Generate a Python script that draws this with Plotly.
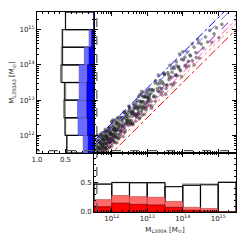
import plotly.graph_objects as go
import math

# ---------------- data (log10 masses) ----------------
mass_l300a = [
    11.56,11.58,11.59,11.61,11.62,11.63,11.65,11.66,11.67,11.69,11.70,11.71,11.73,11.74,11.75,11.77,11.78,11.79,11.81,11.82,
    11.83,11.85,11.86,11.87,11.89,11.90,11.91,11.93,11.94,11.95,11.97,11.98,11.99,12.01,12.02,12.03,12.05,12.06,12.07,12.09,
    12.10,12.11,12.13,12.14,12.15,12.17,12.18,12.19,12.21,12.22,
    11.57,11.60,11.64,11.68,11.72,11.76,11.80,11.84,11.88,11.92,11.96,12.00,12.04,12.08,12.12,12.16,12.20,12.24,12.28,12.32,
    12.36,12.40,12.44,12.48,12.52,12.56,12.60,12.64,12.68,12.72,12.76,12.80,12.84,12.88,12.92,12.96,13.00,13.04,13.08,13.12,
    12.24,12.26,12.29,12.31,12.33,12.35,12.38,12.40,12.42,12.45,12.47,12.49,12.52,12.54,12.57,12.59,12.61,12.64,12.66,12.69,
    12.71,12.74,12.76,12.79,12.81,12.84,12.86,12.89,12.91,12.94,12.96,12.99,13.01,13.04,13.06,
    13.10,13.13,13.16,13.19,13.22,13.25,13.28,13.31,13.34,13.37,13.40,13.43,13.46,13.49,13.52,13.55,13.58,13.61,13.64,13.67,
    13.70,13.73,13.76,13.79,13.82,13.85,13.88,13.91,13.94,13.97,
    14.02,14.07,14.12,14.17,14.22,14.27,14.32,14.37,14.42,14.47,14.52,14.58,14.64,14.70,14.76,14.82,14.88,14.95,15.02,15.10,
    11.56,11.58,11.60,11.62,11.64,11.66,11.68,11.70,11.72,11.74,11.76,11.78,11.80,11.82,11.84,11.86,11.88,11.90,11.92,11.94,
    11.96,11.98,12.00,12.02,12.04,12.06,12.08,12.10,12.12,12.14,
    11.61,11.63,11.66,11.69,11.71,11.74,11.77,11.79,11.82,11.85,11.87,11.90,11.93,11.95,11.98,12.01,12.04,12.07,12.11,12.15,
    12.19,12.23,12.27,12.31,12.35,12.39,12.43,12.47,12.51,12.55,12.59,12.63,12.67,12.71,12.75,12.79,12.83,12.87,12.92,12.97,
    13.02,13.07,13.12,13.18,13.24,13.30,13.36,13.42,13.48,13.55,13.62,13.69,13.76,13.84,13.92,14.00,14.10,14.20,14.32,14.45,
    11.59,11.62,11.64,11.67,11.70,11.73,11.75,11.78,11.81,11.84,11.86,11.89,11.92,11.94,11.97,12.00,12.03,12.06,12.09,12.12,
    12.16,12.20,12.25,12.30,12.34,12.38,12.42,12.46,12.50,12.54,12.58,12.62,12.66,12.70,12.74,12.78,12.82,12.86,12.90,12.95,
    13.00,13.05,13.11,13.17,13.23,13.29,13.35,13.41,13.47,13.53,13.60,13.67,13.74,13.81,13.89,13.97,14.06,14.16,14.26,14.38,
    11.58,11.60,11.61,11.63,11.65,11.67,11.68,11.70,11.72,11.73,11.75,11.77,11.79,11.80,11.82,11.84,11.86,11.88,11.90,11.92,
    11.94,11.96,11.98,12.00,12.03,12.05,12.08,12.11,12.13,12.16,12.19,12.22,12.25,12.28,12.31,12.34,12.37,12.40,12.43,12.46,
    12.49,12.52,12.55,12.58,12.61,12.64,12.67,12.70,12.73,12.76,12.79,12.82,12.85,12.88,12.91,12.94,12.97,13.00,13.03,13.06,
]
mass_l350a3 = [
    11.68,11.50,11.84,11.52,11.65,11.48,11.83,11.64,11.97,11.41,11.77,11.61,11.88,11.69,11.97,11.59,11.78,11.89,11.56,11.87,
    11.95,11.77,12.11,11.67,11.92,11.75,12.09,11.91,12.24,11.67,12.04,11.88,12.14,11.96,12.24,11.85,12.05,12.16,11.82,12.14,
    12.22,12.03,12.38,11.94,12.18,12.02,12.36,12.17,12.51,11.94,
    11.45,11.80,11.61,12.03,11.50,11.85,11.50,11.98,11.81,12.19,11.80,12.04,12.44,11.97,12.31,11.92,12.28,12.23,12.51,11.97,
    12.24,12.60,12.41,12.83,12.30,12.65,12.30,12.78,12.61,12.99,12.60,12.84,13.24,12.77,13.11,12.72,13.08,13.03,13.31,12.77,
    12.04,12.29,12.14,12.49,12.31,12.65,12.10,12.47,12.32,12.60,12.42,12.71,12.34,12.54,12.67,12.34,12.66,12.76,12.58,12.94,
    12.51,12.77,12.61,12.97,12.79,13.14,12.58,12.96,12.81,13.09,12.91,13.21,12.83,13.04,13.16,
    13.19,12.83,13.30,13.12,13.49,13.09,13.32,13.71,13.23,13.56,13.16,13.51,13.45,13.72,13.17,13.43,13.78,13.58,13.99,13.45,
    13.79,13.43,13.90,13.72,14.09,13.69,13.92,14.31,13.83,14.16,
    14.14,13.99,14.37,13.97,14.25,14.12,14.50,14.35,14.72,14.19,14.59,14.48,14.79,14.65,14.98,14.64,14.88,15.05,14.77,15.15,
    11.40,11.62,12.00,11.51,11.83,11.42,11.76,11.69,11.95,11.39,11.64,11.98,11.77,12.17,11.62,11.95,11.58,12.04,11.85,12.21,
    11.80,12.02,12.40,11.91,12.23,11.82,12.16,12.09,12.35,11.79,
    11.66,11.41,11.82,11.60,12.02,11.70,11.88,11.60,12.08,11.72,11.89,12.11,11.66,12.08,11.92,12.38,11.87,12.15,11.79,12.33,
    12.24,12.01,12.43,12.22,12.66,12.35,12.54,12.28,12.77,12.42,12.61,12.84,12.40,12.84,12.69,13.16,12.66,12.95,12.60,13.15,
    13.07,12.85,13.28,13.09,13.55,13.26,13.47,13.23,13.74,13.42,13.64,13.90,13.49,13.97,13.86,14.37,13.93,14.28,14.00,14.63,
    11.56,11.86,11.50,11.76,11.44,11.90,11.76,11.69,12.10,11.64,11.98,11.88,12.12,11.82,12.03,11.69,12.18,12.00,12.42,11.95,
    12.13,12.44,12.11,12.39,12.08,12.55,12.43,12.37,12.79,12.34,12.70,12.61,12.86,12.58,12.80,12.47,12.97,12.80,13.23,12.78,
    12.97,13.29,12.97,13.26,12.97,13.46,13.36,13.32,13.76,13.33,13.72,13.66,13.94,13.69,13.95,13.66,14.21,14.10,14.59,14.21,
    11.76,11.49,11.68,11.39,11.93,11.61,11.81,11.53,11.74,12.07,11.46,11.87,11.66,12.01,11.78,11.99,11.65,12.14,11.82,11.96,
    12.12,11.85,12.05,11.76,12.31,11.99,12.21,11.94,12.15,12.50,11.90,12.32,12.12,12.49,12.27,12.49,12.16,12.66,12.35,12.50,
    12.67,12.41,12.62,12.34,12.89,12.58,12.80,12.53,12.75,13.10,12.50,12.92,12.72,13.09,12.87,13.09,12.76,13.26,12.95,13.10,
]

# relation lines: offsets (dex) from the one-to-one relation
line_offsets = [0.34, 0.20, -0.08, -0.22, -0.33, -0.50]
line_colors = ["#0000ff", "#6f6fff", "#a000b0", "#ff55bb", "#ff7070", "#ff0000"]
line_dashes = ["dashdot", "dash", "dash", "dashdot", "dot", "dashdot"]
line_x = [11.5, 15.5]

mass_cut_x = 11.58
mass_cut_y = 11.57

# histogram bins (log10 mass centres, width 0.5 dex)
bin_centres = [11.75, 12.25, 12.75, 13.25, 13.75, 14.25, 14.75, 15.25]
bin_width = 0.5

left_gray = [0.47, 0.50, 0.53, 0.50, 0.56, 0.57, 0.56, 0.50]
left_black = [0.48, 0.51, 0.51, 0.52, 0.58, 0.55, 0.55, 0.50]
left_light = [0.19, 0.28, 0.29, 0.26, 0.26, 0.17, 0.086, 0.0]
left_dark = [0.10, 0.115, 0.125, 0.125, 0.115, 0.086, 0.04, 0.0]

bottom_gray = [0.48, 0.50, 0.49, 0.49, 0.43, 0.47, 0.47, 0.51]
bottom_black = [0.47, 0.50, 0.50, 0.50, 0.43, 0.45, 0.46, 0.50]
bottom_light = [0.21, 0.28, 0.26, 0.25, 0.18, 0.08, 0.06, 0.0]
bottom_dark = [0.09, 0.15, 0.13, 0.12, 0.08, 0.03, 0.015, 0.0]

mass_ticks = [12, 13, 14, 15]
mass_ticktext = ["10<sup>12</sup>", "10<sup>13</sup>", "10<sup>14</sup>", "10<sup>15</sup>"]
frac_ticks = [0.0, 0.5, 1.0]
frac_ticktext = ["0.0", "0.5", "1.0"]

# ---------------- figure ----------------
OFF = 8          # page body margin
W = H = 249 - OFF
def px_x(p): return (p - OFF) / W
def px_y(p): return 1 - (p - OFF) / H

x_left = [px_x(37), px_x(94)]
x_main = [px_x(94), px_x(236)]
y_main = [px_y(153), px_y(12)]
y_bot = [px_y(212), px_y(153)]

fig = go.Figure()

# scatter
fig.add_trace(go.Scatter(x=mass_l300a, y=mass_l350a3, mode="markers",
                         marker=dict(size=3.6, color="rgba(30,30,30,0.5)", line=dict(width=0)),
                         xaxis="x", yaxis="y", showlegend=False, cliponaxis=True))
for off, col, dsh in zip(line_offsets, line_colors, line_dashes):
    fig.add_trace(go.Scatter(x=line_x, y=[v + off for v in line_x], mode="lines",
                             line=dict(color=col, dash=dsh, width=1.0),
                             xaxis="x", yaxis="y", showlegend=False))
# cut lines
cut_style = dict(color="#555", dash="dash", width=1.2)
fig.add_trace(go.Scatter(x=[mass_cut_x, mass_cut_x], y=[11.5, 15.5], mode="lines",
                         line=cut_style, xaxis="x", yaxis="y", showlegend=False))
fig.add_trace(go.Scatter(x=[11.5, 15.5], y=[mass_cut_y, mass_cut_y], mode="lines",
                         line=cut_style, xaxis="x", yaxis="y", showlegend=False))
fig.add_trace(go.Scatter(x=[mass_cut_x, mass_cut_x], y=[0, 1.0], mode="lines",
                         line=cut_style, xaxis="x3", yaxis="y3", showlegend=False))
fig.add_trace(go.Scatter(x=[0, 1.0], y=[mass_cut_y, mass_cut_y], mode="lines",
                         line=cut_style, xaxis="x2", yaxis="y2", showlegend=False))

# left histograms (horizontal)
def hbar(vals, fill, edge, lw):
    return go.Bar(x=vals, y=bin_centres, orientation="h", width=[bin_width] * len(vals),
                  marker=dict(color=fill, line=dict(color=edge, width=lw)),
                  xaxis="x2", yaxis="y2", showlegend=False)
fig.add_trace(hbar(left_gray, "white", "#888888", 1.4))
fig.add_trace(hbar(left_black, "rgba(0,0,0,0)", "#000000", 0.9))
fig.add_trace(hbar(left_light, "#6b6bff", "#5050c0", 0.6))
fig.add_trace(hbar(left_dark, "#0000ff", "#000080", 0.6))

# bottom histograms
def vbar(vals, fill, edge, lw):
    return go.Bar(x=bin_centres, y=vals, width=[bin_width] * len(vals),
                  marker=dict(color=fill, line=dict(color=edge, width=lw)),
                  xaxis="x3", yaxis="y3", showlegend=False)
fig.add_trace(vbar(bottom_gray, "white", "#888888", 1.4))
fig.add_trace(vbar(bottom_black, "rgba(0,0,0,0)", "#000000", 0.9))
fig.add_trace(vbar(bottom_light, "#ff6b6b", "#b04040", 0.6))
fig.add_trace(vbar(bottom_dark, "#ff0000", "#600000", 0.6))

minor_mass = [n + math.log10(k) for n in range(11, 16) for k in range(2, 10)
              if 11.5 <= n + math.log10(k) <= 15.5]
minor_frac = [i / 10 for i in range(0, 11)]

common = dict(showline=True, linecolor="black", linewidth=1, mirror="ticks", ticks="inside",
              ticklen=4, tickwidth=0.8, tickcolor="black", showgrid=False, zeroline=False,
              automargin=False, tickfont=dict(size=7, color="#222", family="DejaVu Sans"))
mass_minor = dict(tickmode="array", tickvals=minor_mass, ticks="inside", ticklen=2, tickcolor="black", tickwidth=0.6)
frac_minor = dict(tickmode="array", tickvals=minor_frac, ticks="inside", ticklen=2, tickcolor="black", tickwidth=0.6)

fig.update_layout(
    width=W, height=H, margin=dict(l=0, r=0, t=0, b=0, pad=0),
    paper_bgcolor="white", plot_bgcolor="white", barmode="overlay",
    font=dict(family="DejaVu Sans", size=7, color="#222"),
    xaxis=dict(domain=x_main, anchor="y", range=[11.5, 15.5], tickvals=mass_ticks,
               showticklabels=False, minor=mass_minor, **common),
    yaxis=dict(domain=y_main, anchor="x", range=[11.5, 15.5], tickvals=mass_ticks,
               showticklabels=False, minor=mass_minor, **common),
    xaxis2=dict(domain=x_left, anchor="y2", range=[1.0, 0.0], tickvals=frac_ticks[1:],
                ticktext=frac_ticktext[1:], minor=frac_minor, **common),
    yaxis2=dict(domain=y_main, anchor="x2", range=[11.5, 15.5], tickvals=mass_ticks,
                ticktext=mass_ticktext, minor=mass_minor,
                title=dict(text="M<sub>L350A3</sub> [M<sub>⊙</sub>]", standoff=3,
                           font=dict(size=7, color="#222")), **common),
    xaxis3=dict(domain=x_main, anchor="y3", range=[11.5, 15.5], tickvals=mass_ticks,
                ticktext=mass_ticktext, minor=mass_minor,
                title=dict(text="M<sub>L300A</sub> [M<sub>⊙</sub>]", standoff=4,
                           font=dict(size=7, color="#222")), **common),
    yaxis3=dict(domain=y_bot, anchor="x3", range=[0.0, 1.0], tickvals=frac_ticks[:2],
                ticktext=frac_ticktext[:2], minor=frac_minor, **common),
)

fig.write_html("out.html")
